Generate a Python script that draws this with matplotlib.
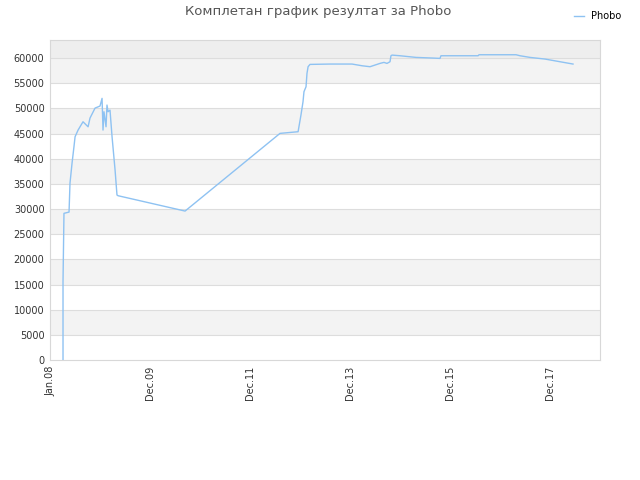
import numpy as np
import pandas as pd
import matplotlib
matplotlib.use("Agg")
from matplotlib import pyplot as plt

# data
dates = ["2008-04-05", "2008-04-05", "2008-04-12", "2008-05-19", "2008-05-26",
         "2008-06-10", "2008-06-24", "2008-07-02", "2008-07-24", "2008-08-29",
         "2008-10-05", "2008-10-19", "2008-11-25", "2008-12-31", "2009-01-15",
         "2009-01-22", "2009-01-29", "2009-02-13", "2009-02-20", "2009-02-28",
         "2009-03-14", "2009-03-29", "2009-04-20", "2009-05-04", "2009-05-12",
         "2010-09-13", "2012-08-06", "2012-12-16", "2013-01-06", "2013-01-21",
         "2013-01-28", "2013-02-12", "2013-02-19", "2013-02-27", "2013-03-13",
         "2013-08-06", "2014-01-14", "2014-03-28", "2014-05-25", "2014-08-06",
         "2014-09-04", "2014-09-26", "2014-10-18", "2014-10-25", "2014-11-02",
         "2014-12-30", "2015-04-26", "2015-08-28", "2015-10-18", "2015-10-25",
         "2016-07-22", "2016-07-29", "2017-04-25", "2017-05-24", "2017-08-05",
         "2017-11-23", "2018-06-15"]
scores = [0, 15560, 29150, 29400, 35170,
          39140, 42400, 44370, 45700, 47350,
          46350, 48080, 50070, 50470, 52000,
          45700, 49340, 46360, 50670, 49340,
          49670, 44370, 37750, 32790, 32650,
          29600, 45040, 45370, 48680, 51330,
          53320, 54310, 56960, 58290, 58750,
          58820, 58820, 58480, 58290, 58950,
          59150, 58950, 59280, 60470, 60600,
          60470, 60140, 60010, 59940, 60470,
          60470, 60670, 60670, 60470, 60140,
          59810, 58820]

tick_dates = ["2008-01-01", "2009-12-31", "2011-12-31", "2013-12-30", "2015-12-30", "2017-12-29"]
tick_labels = ["Jan.08", "Dec.09", "Dec.11", "Dec.13", "Dec.15", "Dec.17"]
yticks = list(range(0, 60001, 5000))

x = pd.to_datetime(dates)

fig = plt.figure(figsize=(6.4, 4.8), dpi=100)
ax = fig.add_axes([50/640, 120/480, 550/640, 320/480])

ymax = 63600
# striped background
for i, y0 in enumerate(yticks):
    top = min(y0 + 5000, ymax)
    if y0 >= 60000:
        col = "#eeeeee"
    elif i % 2 == 1:
        col = "#f3f3f3"
    else:
        col = "#ffffff"
    ax.axhspan(y0, top, color=col, lw=0, zorder=0)
for y0 in yticks[1:]:
    ax.axhline(y0, color="#dddddd", lw=0.8, zorder=1)

ax.plot(x, scores, color="#8ec2f2", lw=1.0, zorder=3, label="Phobo")

ax.set_xlim(pd.Timestamp("2008-01-01"), pd.Timestamp("2018-12-29"))
ax.set_ylim(0, ymax)
ax.set_yticks(yticks)
ax.set_yticklabels([str(v) for v in yticks], fontsize=7, color="#333333")
ax.set_xticks(pd.to_datetime(tick_dates))
ax.set_xticklabels(tick_labels, rotation=90, fontsize=7, color="#333333")
ax.tick_params(length=0, pad=4)
for s in ax.spines.values():
    s.set_color("#d8d8d8")
    s.set_linewidth(0.8)

fig.text(0.497, 0.975, "Комплетан график резултат за Phobo", ha="center", va="center",
         fontsize=9.5, color="#555555")
fig.legend(loc="upper right", bbox_to_anchor=(0.985, 0.995), frameon=False, fontsize=7,
           handlelength=1.0, handletextpad=0.8)

fig.savefig("out.png", dpi=100)
